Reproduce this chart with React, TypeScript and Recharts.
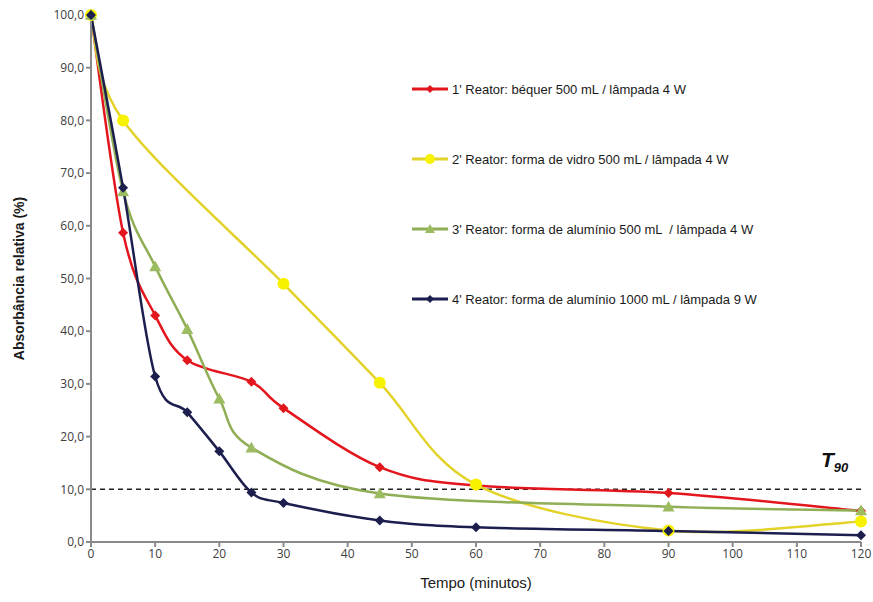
import React from 'react';
import { LineChart, Line, XAxis, YAxis, ReferenceLine, Label } from 'recharts';

// tempo (min) e absorbância relativa (%) de cada reator
const tempoReator1 = [0, 5, 10, 15, 25, 30, 45, 60, 90, 120];
const absReator1 = [100, 58.7, 43, 34.5, 30.4, 25.4, 14.2, 10.7, 9.3, 5.9];

const tempoReator2 = [0, 5, 30, 45, 60, 90, 120];
const absReator2 = [100, 80, 49, 30.2, 10.9, 2.2, 3.9];

const tempoReator3 = [0, 5, 10, 15, 20, 25, 45, 90, 120];
const absReator3 = [100, 66.5, 52.3, 40.4, 27.2, 17.9, 9.2, 6.7, 6.0];

const tempoReator4 = [0, 5, 10, 15, 20, 25, 30, 45, 60, 90, 120];
const absReator4 = [100, 67.2, 31.4, 24.6, 17.2, 9.4, 7.4, 4.1, 2.8, 2.1, 1.3];

const xTicks = [0, 10, 20, 30, 40, 50, 60, 70, 80, 90, 100, 110, 120];
const yTicks = [0, 10, 20, 30, 40, 50, 60, 70, 80, 90, 100];
const limiteT90 = 10;

const nomes = [
    "1' Reator: béquer 500 mL / lâmpada 4 W",
    "2' Reator: forma de vidro 500 mL / lâmpada 4 W",
    "3' Reator: forma de alumínio 500 mL  / lâmpada 4 W",
    "4' Reator: forma de alumínio 1000 mL / lâmpada 9 W",
];

const toPoints = (tempo: number[], abs: number[]) => tempo.map((t, i) => ({ t, v: abs[i] }));

const series = [
    { name: nomes[0], data: toPoints(tempoReator1, absReator1), line: '#E3161E', fill: '#E3161E', shape: 'diamond', size: 5 },
    { name: nomes[1], data: toPoints(tempoReator2, absReator2), line: '#E2D22A', fill: '#F7F200', shape: 'circle', size: 6 },
    { name: nomes[2], data: toPoints(tempoReator3, absReator3), line: '#8FAE55', fill: '#9DBB61', shape: 'triangle', size: 6 },
    { name: nomes[3], data: toPoints(tempoReator4, absReator4), line: '#1C1E4E', fill: '#1C1E4E', shape: 'diamond', size: 5 },
];

// Excel-like smoothed line (Catmull-Rom in pixel space), as a d3-style curve factory
function excelCurve(context: any) {
    let pts: [number, number][] = [];
    return {
        areaStart() {},
        areaEnd() {},
        lineStart() { pts = []; },
        point(x: number, y: number) { pts.push([+x, +y]); },
        lineEnd() {
            if (!pts.length) return;
            context.moveTo(pts[0][0], pts[0][1]);
            for (let i = 0; i < pts.length - 1; i++) {
                const p0 = pts[Math.max(0, i - 1)];
                const p1 = pts[i];
                const p2 = pts[i + 1];
                const p3 = pts[Math.min(pts.length - 1, i + 2)];
                const k = 1 / 6;
                context.bezierCurveTo(
                    p1[0] + (p2[0] - p0[0]) * k, p1[1] + (p2[1] - p0[1]) * k,
                    p2[0] - (p3[0] - p1[0]) * k, p2[1] - (p3[1] - p1[1]) * k,
                    p2[0], p2[1],
                );
            }
        },
    };
}

function marker(shape: string, cx: number, cy: number, s: number, fill: string, key?: string) {
    if (shape === 'circle') return <circle key={key} cx={cx} cy={cy} r={s} fill={fill} />;
    if (shape === 'triangle')
        return <polygon key={key} points={`${cx},${cy - s} ${cx + s},${cy + s * 0.8} ${cx - s},${cy + s * 0.8}`} fill={fill} />;
    return <polygon key={key} points={`${cx},${cy - s} ${cx + s},${cy} ${cx},${cy + s} ${cx - s},${cy}`} fill={fill} />;
}

function LegendBox() {
    return (
        <div style={{ position: 'absolute', left: 410, top: 54, fontFamily: 'Liberation Sans, Arial', fontSize: 13, color: '#1a1a1a' }}>
            {series.map((s) => (
                <div key={s.name} style={{ display: 'flex', alignItems: 'center', height: 70 }}>
                    <svg width={40} height={14}>
                        <line x1={2} y1={7} x2={38} y2={7} stroke={s.line} strokeWidth={3} />
                        {marker(s.shape, 20, 7, s.shape === 'diamond' ? 4 : 5, s.fill)}
                    </svg>
                    <span style={{ marginLeft: 2, whiteSpace: 'pre' }}>{s.name}</span>
                </div>
            ))}
        </div>
    );
}

function T90Label(props: any) {
    const vb = props.viewBox || {};
    const x = vb.x + vb.width - 40;
    const y = vb.y - 22;
    return (
        <text x={x} y={y} fontFamily="Liberation Sans, Arial" fontWeight="bold" fontStyle="italic" fill="#111">
            <tspan fontSize={21}>T</tspan>
            <tspan fontSize={13} dy={5}>90</tspan>
        </text>
    );
}

export default function App() {
    const fmt = (v: number) => v.toFixed(1).replace('.', ',');
    return (
        <div style={{ position: 'absolute', left: 0, top: 0, width: 873, height: 602, background: '#fff' }}>
            <LineChart width={873} height={602} margin={{ top: 15, right: 12, bottom: 8, left: 16 }}>
                <XAxis
                    type="number"
                    dataKey="t"
                    domain={[0, 120]}
                    ticks={xTicks}
                    allowDuplicatedCategory={false}
                    stroke="#8a8a8a"
                    strokeWidth={2}
                    tickSize={5}
                    tick={{ fill: '#404040', fontSize: 12, fontFamily: 'Open Sans' }}
                    height={52}
                >
                    <Label value="Tempo (minutos)" position="insideBottom" offset={6} style={{ fill: '#1a1a1a', fontSize: 15, fontFamily: 'Liberation Sans, Arial' }} />
                </XAxis>
                <YAxis
                    type="number"
                    domain={[0, 100]}
                    ticks={yTicks}
                    tickFormatter={fmt}
                    stroke="#8a8a8a"
                    strokeWidth={2}
                    tickSize={5}
                    tick={{ fill: '#404040', fontSize: 12, fontFamily: 'Open Sans' }}
                    width={75}
                >
                    <Label value="Absorbância relativa (%)" angle={-90} position="insideLeft" offset={3} style={{ textAnchor: 'middle', fill: '#1a1a1a', fontSize: 14, fontWeight: 'bold', fontFamily: 'Liberation Sans, Arial' }} />
                </YAxis>
                <ReferenceLine y={limiteT90} stroke="#222" strokeDasharray="5 4" strokeWidth={1.5} label={<T90Label />} />
                {series.map((s) => (
                    <Line
                        key={s.name}
                        data={s.data}
                        dataKey="v"
                        name={s.name}
                        type={excelCurve as any}
                        stroke={s.line}
                        strokeWidth={2.5}
                        isAnimationActive={false}
                        dot={(p: any) => marker(s.shape, p.cx, p.cy, s.size, s.fill, `${s.name}-${p.index}`)}
                        activeDot={false}
                    />
                ))}
            </LineChart>
            <LegendBox />
        </div>
    );
}
